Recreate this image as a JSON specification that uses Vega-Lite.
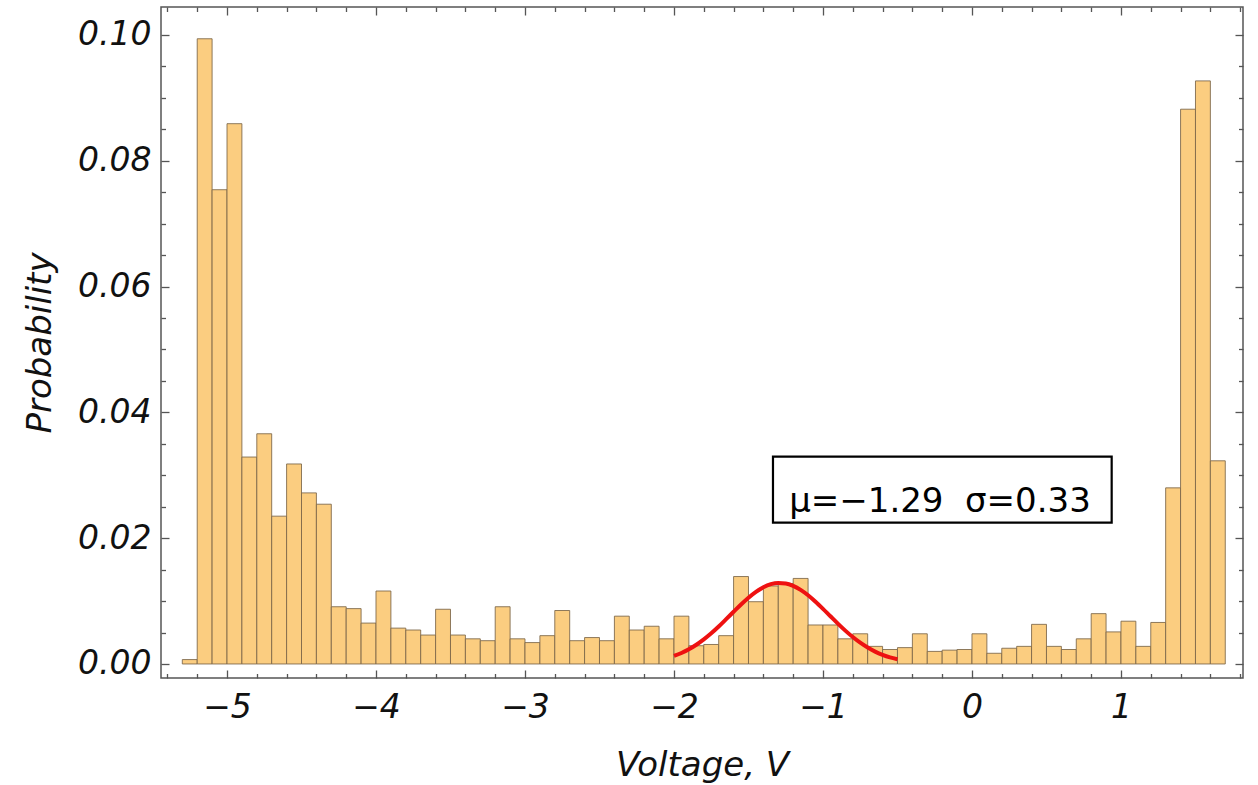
{
  "$schema": "https://vega.github.io/schema/vega-lite/v6.json",
  "width": 1082,
  "height": 671,
  "autosize": {"type": "none"},
  "padding": {"left": 161, "top": 7, "right": 15, "bottom": 107},
  "background": "white",
  "config": {
    "view": {"stroke": "#555555", "strokeWidth": 1.5},
    "axis": {
      "domain": false,
      "grid": false,
      "labelFont": "DejaVu Sans",
      "labelFontStyle": "italic",
      "labelFontSize": 33,
      "labelColor": "#111111",
      "labelFlush": false,
      "labelOverlap": false,
      "labelBound": false,
      "titleFont": "DejaVu Sans",
      "titleFontStyle": "italic",
      "titleFontWeight": "normal",
      "titleFontSize": 34,
      "titleColor": "#111111",
      "tickColor": "#555555",
      "tickWidth": 1.3
    }
  },
  "datasets": {
    "bins": [
      {"start": -5.3, "end": -5.2, "p": 0.0007},
      {"start": -5.2, "end": -5.1, "p": 0.0994},
      {"start": -5.1, "end": -5.0, "p": 0.0754},
      {"start": -5.0, "end": -4.9, "p": 0.0859},
      {"start": -4.9, "end": -4.8, "p": 0.0329},
      {"start": -4.8, "end": -4.7, "p": 0.0366},
      {"start": -4.7, "end": -4.6, "p": 0.0235},
      {"start": -4.6, "end": -4.5, "p": 0.0318},
      {"start": -4.5, "end": -4.4, "p": 0.0272},
      {"start": -4.4, "end": -4.3, "p": 0.0254},
      {"start": -4.3, "end": -4.2, "p": 0.0091},
      {"start": -4.2, "end": -4.1, "p": 0.0088},
      {"start": -4.1, "end": -4.0, "p": 0.0065},
      {"start": -4.0, "end": -3.9, "p": 0.0116},
      {"start": -3.9, "end": -3.8, "p": 0.0057},
      {"start": -3.8, "end": -3.7, "p": 0.0054},
      {"start": -3.7, "end": -3.6, "p": 0.0046},
      {"start": -3.6, "end": -3.5, "p": 0.0087},
      {"start": -3.5, "end": -3.4, "p": 0.0046},
      {"start": -3.4, "end": -3.3, "p": 0.0040},
      {"start": -3.3, "end": -3.2, "p": 0.0037},
      {"start": -3.2, "end": -3.1, "p": 0.0091},
      {"start": -3.1, "end": -3.0, "p": 0.0040},
      {"start": -3.0, "end": -2.9, "p": 0.0034},
      {"start": -2.9, "end": -2.8, "p": 0.0045},
      {"start": -2.8, "end": -2.7, "p": 0.0085},
      {"start": -2.7, "end": -2.6, "p": 0.0037},
      {"start": -2.6, "end": -2.5, "p": 0.0042},
      {"start": -2.5, "end": -2.4, "p": 0.0037},
      {"start": -2.4, "end": -2.3, "p": 0.0076},
      {"start": -2.3, "end": -2.2, "p": 0.0054},
      {"start": -2.2, "end": -2.1, "p": 0.0060},
      {"start": -2.1, "end": -2.0, "p": 0.0040},
      {"start": -2.0, "end": -1.9, "p": 0.0076},
      {"start": -1.9, "end": -1.8, "p": 0.0029},
      {"start": -1.8, "end": -1.7, "p": 0.0031},
      {"start": -1.7, "end": -1.6, "p": 0.0045},
      {"start": -1.6, "end": -1.5, "p": 0.0139},
      {"start": -1.5, "end": -1.4, "p": 0.0099},
      {"start": -1.4, "end": -1.3, "p": 0.0124},
      {"start": -1.3, "end": -1.2, "p": 0.0128},
      {"start": -1.2, "end": -1.1, "p": 0.0136},
      {"start": -1.1, "end": -1.0, "p": 0.0062},
      {"start": -1.0, "end": -0.9, "p": 0.0062},
      {"start": -0.9, "end": -0.8, "p": 0.0040},
      {"start": -0.8, "end": -0.7, "p": 0.0048},
      {"start": -0.7, "end": -0.6, "p": 0.0028},
      {"start": -0.6, "end": -0.5, "p": 0.0023},
      {"start": -0.5, "end": -0.4, "p": 0.0026},
      {"start": -0.4, "end": -0.3, "p": 0.0048},
      {"start": -0.3, "end": -0.2, "p": 0.0020},
      {"start": -0.2, "end": -0.1, "p": 0.0022},
      {"start": -0.1, "end": 0.0, "p": 0.0023},
      {"start": 0.0, "end": 0.1, "p": 0.0048},
      {"start": 0.1, "end": 0.2, "p": 0.0017},
      {"start": 0.2, "end": 0.3, "p": 0.0025},
      {"start": 0.3, "end": 0.4, "p": 0.0028},
      {"start": 0.4, "end": 0.5, "p": 0.0063},
      {"start": 0.5, "end": 0.6, "p": 0.0028},
      {"start": 0.6, "end": 0.7, "p": 0.0023},
      {"start": 0.7, "end": 0.8, "p": 0.0040},
      {"start": 0.8, "end": 0.9, "p": 0.0080},
      {"start": 0.9, "end": 1.0, "p": 0.0051},
      {"start": 1.0, "end": 1.1, "p": 0.0068},
      {"start": 1.1, "end": 1.2, "p": 0.0028},
      {"start": 1.2, "end": 1.3, "p": 0.0066},
      {"start": 1.3, "end": 1.4, "p": 0.0280},
      {"start": 1.4, "end": 1.5, "p": 0.0882},
      {"start": 1.5, "end": 1.6, "p": 0.0927},
      {"start": 1.6, "end": 1.7, "p": 0.0323}
    ],
    "fit": [
      {"v": -2.00, "p": 0.00127},
      {"v": -1.95, "p": 0.00175},
      {"v": -1.90, "p": 0.00234},
      {"v": -1.85, "p": 0.00306},
      {"v": -1.80, "p": 0.00391},
      {"v": -1.75, "p": 0.00488},
      {"v": -1.70, "p": 0.00596},
      {"v": -1.65, "p": 0.00712},
      {"v": -1.60, "p": 0.00830},
      {"v": -1.55, "p": 0.00946},
      {"v": -1.50, "p": 0.01054},
      {"v": -1.45, "p": 0.01147},
      {"v": -1.40, "p": 0.01220},
      {"v": -1.35, "p": 0.01269},
      {"v": -1.30, "p": 0.01289},
      {"v": -1.25, "p": 0.01281},
      {"v": -1.20, "p": 0.01243},
      {"v": -1.15, "p": 0.01179},
      {"v": -1.10, "p": 0.01093},
      {"v": -1.05, "p": 0.00990},
      {"v": -1.00, "p": 0.00877},
      {"v": -0.95, "p": 0.00759},
      {"v": -0.90, "p": 0.00642},
      {"v": -0.85, "p": 0.00530},
      {"v": -0.80, "p": 0.00428},
      {"v": -0.75, "p": 0.00338},
      {"v": -0.70, "p": 0.00261},
      {"v": -0.65, "p": 0.00197},
      {"v": -0.60, "p": 0.00145},
      {"v": -0.55, "p": 0.00104},
      {"v": -0.50, "p": 0.00074}
    ],
    "note": [
      {"x": -1.3356, "x2": 0.9376, "y": 0.03296, "y2": 0.02246, "tx": -0.2148, "ty": 0.02417, "label": "μ=−1.29\u00a0\u00a0σ=0.33"}
    ]
  },
  "layer": [
    {
      "data": {"name": "bins"},
      "mark": {"type": "rect", "fill": "#fbcd80", "stroke": "#7a6548", "strokeWidth": 1, "strokeOpacity": 0.85},
      "encoding": {
        "x": {
          "field": "start", "type": "quantitative",
          "scale": {"domain": [-5.443, 1.819], "nice": false, "zero": false},
          "axis": {
            "orient": "bottom",
            "values": [-5, -4, -3, -2, -1, 0, 1],
            "format": "d",
            "tickSize": -8,
            "labelPadding": 21,
            "title": "Voltage, V",
            "titleY": 97,
            "titleBaseline": "alphabetic"
          }
        },
        "x2": {"field": "end"},
        "y": {
          "field": "p", "type": "quantitative",
          "scale": {"domain": [-0.00223, 0.10445], "nice": false, "zero": false},
          "axis": {
            "orient": "left",
            "values": [0, 0.02, 0.04, 0.06, 0.08, 0.1],
            "format": ".2f",
            "tickSize": -8,
            "labelPadding": 18,
            "title": "Probability",
            "titleX": -111,
            "titleBaseline": "alphabetic"
          }
        },
        "y2": {"datum": 0}
      }
    },
    {
      "data": {"name": "fit"},
      "mark": {"type": "line", "color": "#ee1111", "strokeWidth": 4, "interpolate": "monotone"},
      "encoding": {
        "x": {
          "field": "v", "type": "quantitative",
          "scale": {"domain": [-5.443, 1.819], "nice": false, "zero": false},
          "axis": {"orient": "top", "values": [-5, -4, -3, -2, -1, 0, 1], "labels": false, "tickSize": -8, "title": null}
        },
        "y": {
          "field": "p", "type": "quantitative",
          "scale": {"domain": [-0.00223, 0.10445], "nice": false, "zero": false},
          "axis": {"orient": "right", "values": [0, 0.02, 0.04, 0.06, 0.08, 0.1], "labels": false, "tickSize": -8, "title": null}
        }
      }
    },
    {
      "data": {"name": "note"},
      "mark": {"type": "rect", "fill": "transparent", "stroke": "#000000", "strokeWidth": 2.2},
      "encoding": {
        "x": {
          "field": "x", "type": "quantitative",
          "scale": {"domain": [-5.443, 1.819], "nice": false, "zero": false},
          "axis": {"orient": "bottom", "values": [-5.4, -5.2, -4.8, -4.6, -4.4, -4.2, -3.8, -3.6, -3.4, -3.2, -2.8, -2.6, -2.4, -2.2, -1.8, -1.6, -1.4, -1.2, -0.8, -0.6, -0.4, -0.2, 0.2, 0.4, 0.6, 0.8, 1.2, 1.4, 1.6, 1.8], "labels": false, "tickSize": -4.5, "title": null}
        },
        "x2": {"field": "x2"},
        "y": {
          "field": "y", "type": "quantitative",
          "scale": {"domain": [-0.00223, 0.10445], "nice": false, "zero": false},
          "axis": {"orient": "left", "values": [0.005, 0.01, 0.015, 0.025, 0.03, 0.035, 0.045, 0.05, 0.055, 0.065, 0.07, 0.075, 0.085, 0.09, 0.095], "labels": false, "tickSize": -4.5, "title": null}
        },
        "y2": {"field": "y2"}
      }
    },
    {
      "data": {"name": "note"},
      "mark": {"type": "text", "font": "DejaVu Sans", "fontSize": 34, "color": "#000000", "align": "center", "baseline": "alphabetic"},
      "encoding": {
        "x": {
          "field": "tx", "type": "quantitative",
          "scale": {"domain": [-5.443, 1.819], "nice": false, "zero": false},
          "axis": {"orient": "top", "values": [-5.4, -5.2, -4.8, -4.6, -4.4, -4.2, -3.8, -3.6, -3.4, -3.2, -2.8, -2.6, -2.4, -2.2, -1.8, -1.6, -1.4, -1.2, -0.8, -0.6, -0.4, -0.2, 0.2, 0.4, 0.6, 0.8, 1.2, 1.4, 1.6, 1.8], "labels": false, "tickSize": -4.5, "title": null}
        },
        "y": {
          "field": "ty", "type": "quantitative",
          "scale": {"domain": [-0.00223, 0.10445], "nice": false, "zero": false},
          "axis": {"orient": "right", "values": [0.005, 0.01, 0.015, 0.025, 0.03, 0.035, 0.045, 0.05, 0.055, 0.065, 0.07, 0.075, 0.085, 0.09, 0.095], "labels": false, "tickSize": -4.5, "title": null}
        },
        "text": {"field": "label"}
      }
    }
  ],
  "resolve": {"axis": {"x": "independent", "y": "independent"}}
}
